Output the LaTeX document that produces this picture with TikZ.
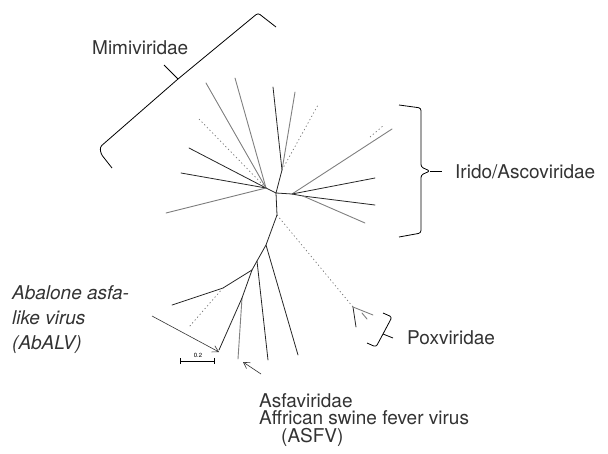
\documentclass[tikz,border=0pt]{standalone}
\usepackage{fontspec}
\setmainfont{TeX Gyre Heros}
\usetikzlibrary{arrows.meta}
\tikzset{
  br/.style     = {draw=black!85, line width=0.8pt, line cap=round},
  brg/.style    = {draw=black!50, line width=0.9pt, line cap=round},
  brd/.style    = {draw=black!55, line width=0.7pt, dash pattern=on 1.2pt off 2.6pt},
  brace/.style  = {draw=black, line width=0.8pt, rounded corners=2.5pt},
  lbl/.style    = {font=\fontsize{19}{17.5}\selectfont, text=black!80, anchor=west, inner sep=0pt, align=left},
  lbli/.style   = {font=\fontsize{19}{25}\selectfont\itshape, text=black!80, anchor=west, inner sep=0pt, align=left},
  ptr/.style    = {-{Straight Barb[length=6pt,width=7pt]}, draw=black!80, line width=0.6pt},
  sbar/.style   = {draw=black, line width=0.8pt, |-|},
}

\begin{document}
\begin{tikzpicture}[x=1pt,y=-1pt]
  \useasboundingbox (0,0) rectangle (608,453);

  % internal points of the tree
  \coordinate (hub)  at (276,193);
  \coordinate (hubL) at (266,188);
  \coordinate (hubU) at (282,170);
  \coordinate (hubR) at (292,194);
  \coordinate (hubS) at (303,196);
  \coordinate (hubD) at (277,215);
  \coordinate (a1)   at (266,245);
  \coordinate (a2)   at (257,261);
  \coordinate (a3)   at (252,270);
  \coordinate (a4)   at (223,288);
  \coordinate (a5)   at (242,298);
  \coordinate (pox)  at (353,307);

  % Mimiviridae side
  \draw[br] (hub) -- (hubL);
  \draw[brg] (hubL) -- (206,83);
  \draw[brg] (hubL) -- (235,78);
  \draw[brd] (hubL) -- (199,119);
  \draw[br]  (hubL) -- (189,148);
  \draw[br]  (hubL) -- (181,173);
  \draw[brg] (hubL) -- (166,213);

  % upper stem
  \draw[br]  (hub) -- (hubU);
  \draw[br]  (hubU) -- (273,87);
  \draw[brg] (hubU) -- (295,92);
  \draw[brd] (hubU) -- (318,105);

  % Irido/Ascoviridae side
  \draw[br]  (hub) -- (hubR) -- (hubS);
  \draw[brg] (hubR) -- (392,129);
  \draw[brd] (370,137) -- (384,125);
  \draw[br]  (hubR) -- (375,178);
  \draw[br]  (hubS) -- (375,205);
  \draw[brg] (hubS) -- (365,223);

  % Poxviridae
  \draw[br]  (hub) -- (hubD);
  \draw[brd] (hubD) -- (pox);
  \draw[br]  (pox) -- (356,327);
  \draw[brg] (pox) -- (373,315);
  \draw[brg] (362,313) -- (367,319);

  % Asfaviridae
  \draw[br]  (hubD) -- (a1) -- (a2) -- (a3);
  \draw[br]  (a1) -- (298,355);
  \draw[br]  (a2) -- (268,360);
  \draw[br]  (a3) -- (a4) -- (172,305);
  \draw[brd] (a4) -- (189,327);
  \draw[br]  (a3) -- (a5);
  \draw[brg] (a5) -- (238,359);
  \draw[br]  (a5) -- (219,350);

  % brackets
  \draw[brace] (276,27) -- (258,13) -- (178,79) -- (100,147) -- (101,154) -- (112,168);
  \draw[brace] (178,79) -- (164,65);
  \draw[brace] (399,105) -- (421,108) -- (421,167) -- (430,171) -- (421,175) -- (421,233) -- (399,237);
  \draw[draw=black, line width=0.8pt] (430,171) -- (442,171);
  \draw[brace] (383,313) -- (392,317) -- (383,334) -- (376,347) -- (367,343);
  \draw[brace] (383,334) -- (393,338);

  % labels
  \node[lbl]  (mimi)  at (92,48)   {Mimiviridae};
  \node[lbl]  (irido) at (455,172) {Irido/Ascoviridae};
  \node[lbl]  (poxl)  at (407,338) {Poxviridae};
  \node[lbli] (abalv) at (12,320)  {Abalone asfa-\\like virus\\(AbALV)};
  \node[lbl]  (asfv)  at (259,420) {Asfaviridae\\Affrican swine fever virus\\\hspace*{22pt}(ASFV)};

  % pointers
  \coordinate (abtip) at (219,352);
  \coordinate (astip) at (243,362);
  \draw[ptr] (152,316) -- (abtip);
  \draw[ptr] (261,374) -- (astip);

  % scale bar
  \draw[sbar] (180,361) -- (215,361);
  \node[font=\fontsize{6}{6}\selectfont, inner sep=0pt] (sc) at (198,355) {0.2};
\end{tikzpicture}
\end{document}
